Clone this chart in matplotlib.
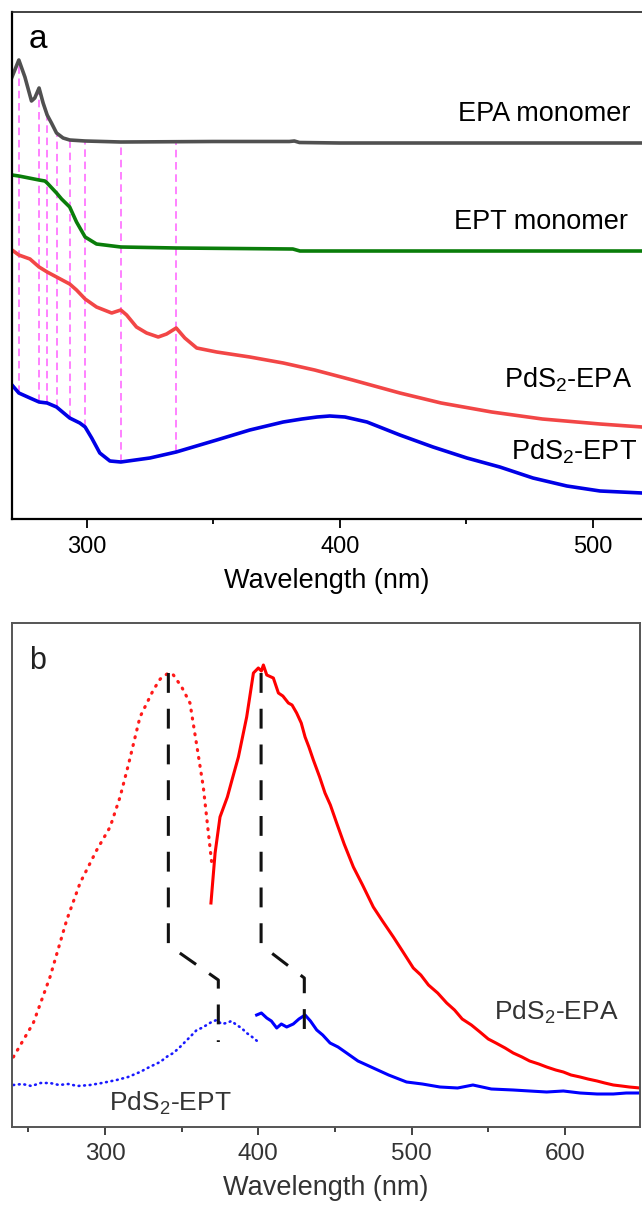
import numpy as np
import matplotlib
matplotlib.use("Agg")
import matplotlib.pyplot as plt

plt.rcParams["font.family"] = ["Liberation Sans", "DejaVu Sans"]
plt.rcParams["mathtext.fontset"] = "custom"
plt.rcParams["mathtext.rm"] = "Liberation Sans"
plt.rcParams["mathtext.default"] = "regular"

# ---- panel a: absorption spectra (offset, arbitrary units) -----------------
epa_wl = [270.4, 273.1, 275.5, 278.1, 279.4, 281.1, 282.7, 284.3, 286.0, 288.0,
          290.6, 293.2, 299.3, 313.4, 350, 380, 382, 384, 400, 519.4]
epa_y = [4.42, 4.59, 4.42, 4.18, 4.21, 4.31, 4.16, 4.04, 3.96, 3.86,
         3.81, 3.79, 3.78, 3.77, 3.775, 3.775, 3.78, 3.765, 3.76, 3.76]

ept_wl = [270.4, 273.1, 281.1, 283.4, 284.3, 288.0, 290.0, 293.2, 295.9, 299.3,
          303.8, 313.4, 335.3, 381.4, 384.2, 519.4]
ept_y = [3.44, 3.43, 3.39, 3.38, 3.36, 3.26, 3.20, 3.12, 2.97, 2.82,
         2.75, 2.72, 2.71, 2.70, 2.68, 2.68]

pepa_wl = [270.4, 273.1, 277.5, 281.1, 284.3, 288.0, 293.2, 295.9, 299.3, 303.8,
           309.8, 313.4, 315.7, 319.6, 323.6, 328.2, 331.5, 335.3, 338.7, 343.4,
           351.3, 364.4, 377.6, 390.0, 405.0, 423.7, 440.0, 460.0, 480.0, 502.8,
           519.4]
pepa_y = [2.69, 2.64, 2.60, 2.52, 2.47, 2.42, 2.35, 2.29, 2.20, 2.12,
          2.06, 2.09, 2.04, 1.92, 1.86, 1.82, 1.85, 1.91, 1.81, 1.71,
          1.67, 1.62, 1.56, 1.49, 1.39, 1.26, 1.16, 1.07, 1.00, 0.95,
          0.92]

pept_wl = [270.4, 273.1, 277.5, 281.1, 284.3, 288.0, 293.2, 297.2, 299.3, 301.9,
           305.1, 309.1, 313.4, 324.9, 335.3, 351.3, 364.4, 377.6, 385.0, 391.0,
           396.0, 402.0, 410.7, 423.7, 436.8, 450.2, 463.2, 476.3, 489.7, 502.8,
           519.4]
pept_y = [1.34, 1.26, 1.21, 1.17, 1.16, 1.12, 1.01, 0.96, 0.92, 0.81,
          0.66, 0.58, 0.57, 0.61, 0.67, 0.79, 0.89, 0.97, 1.00, 1.02,
          1.03, 1.02, 0.97, 0.84, 0.72, 0.61, 0.52, 0.41, 0.33, 0.28,
          0.26]

guide_wl = [273.1, 281.1, 284.3, 288.0, 293.2, 299.3, 313.4, 335.3]

# ---- panel b: excitation (dotted) / emission (solid) -----------------------
exa_wl = [240.2, 253.2, 264.1, 275.0, 283.7, 294.6, 303.3, 309.8, 315.2, 322.8,
          331.5, 336.0, 341.3, 344.6, 350.0, 355.4, 360.0, 364.1, 369.6]
exa_y = [0.70, 1.04, 1.50, 2.07, 2.44, 2.77, 3.00, 3.30, 3.62, 4.10,
         4.37, 4.48, 4.54, 4.52, 4.40, 4.24, 3.80, 3.40, 2.64]

ema_wl = [369.1, 371.8, 375.0, 379.8, 383.0, 387.0, 392.4, 396.8, 400.0, 402.0,
          403.3, 405.5, 409.8, 413.1, 416.0, 419.6, 422.0, 425.0, 428.0, 430.5,
          433.0, 435.9, 440.0, 443.5, 447.0, 451.1, 456.0, 462.0, 468.0, 475.0,
          481.0, 488.1, 494.0, 501.1, 506.0, 511.0, 517.0, 522.9, 528.0, 533.0,
          539.0, 544.6, 550.0, 555.0, 561.0, 566.3, 572.0, 577.0, 583.0, 588.1,
          594.0, 599.0, 604.0, 609.9, 615.0, 621.0, 626.0, 631.6, 637.0, 642.0,
          649.0]
ema_y = [2.24, 2.74, 3.10, 3.30, 3.48, 3.70, 4.10, 4.54, 4.59, 4.56,
         4.62, 4.52, 4.49, 4.34, 4.31, 4.24, 4.22, 4.14, 4.04, 3.90,
         3.80, 3.67, 3.50, 3.34, 3.22, 3.04, 2.83, 2.60, 2.42, 2.20,
         2.06, 1.90, 1.76, 1.59, 1.52, 1.42, 1.34, 1.24, 1.17, 1.08,
         1.02, 0.95, 0.88, 0.84, 0.79, 0.74, 0.70, 0.66, 0.63, 0.60,
         0.57, 0.55, 0.52, 0.50, 0.48, 0.46, 0.44, 0.42, 0.41, 0.40,
         0.39]

ext_wl = [240.2, 246.0, 252.0, 258.0, 264.1, 270.0, 276.0, 282.0, 290.2, 298.0,
          307.6, 315.0, 322.8, 329.0, 335.9, 341.0, 344.6, 348.9, 355.4, 359.8,
          363.0, 366.3, 369.5, 372.8, 376.0, 379.3, 382.5, 385.8, 389.0, 392.4,
          396.0, 400.0]
ext_y = [0.42, 0.43, 0.41, 0.44, 0.44, 0.42, 0.43, 0.41, 0.42, 0.44,
         0.47, 0.50, 0.55, 0.60, 0.65, 0.71, 0.74, 0.80, 0.90, 0.97,
         0.99, 1.02, 1.05, 1.07, 1.03, 1.04, 1.06, 1.02, 0.99, 0.94,
         0.90, 0.85]

emt_wl = [398.9, 402.0, 405.5, 408.5, 412.0, 415.0, 418.5, 422.8, 426.5, 430.5,
          434.0, 438.1, 442.0, 446.8, 452.0, 457.6, 465.0, 475.0, 485.0, 496.7,
          507.0, 518.5, 530.0, 540.0, 552.0, 566.3, 577.0, 588.1, 599.0, 609.9,
          621.0, 631.6, 640.0, 649.0]
emt_y = [1.12, 1.14, 1.09, 1.06, 0.99, 1.03, 1.00, 1.03, 1.08, 1.12,
         1.06, 0.97, 0.92, 0.84, 0.80, 0.74, 0.66, 0.59, 0.52, 0.45,
         0.43, 0.40, 0.39, 0.42, 0.38, 0.37, 0.36, 0.35, 0.36, 0.34,
         0.33, 0.33, 0.34, 0.34]

# shift guides: excitation peak -> PdS2-EPT peak, emission peak -> PdS2-EPT peak
shift1_x = [341.3, 341.3, 373.9, 373.9]
shift1_y = [4.54, 1.82, 1.47, 0.85]
shift2_x = [401.8, 401.8, 430.0, 430.0]
shift2_y = [4.54, 1.82, 1.49, 0.85]

fig = plt.figure(figsize=(6.42, 12.08), dpi=100)
W, H = 642, 1208
ax0 = fig.add_axes([12 / W, 1 - 519 / H, 630 / W, 507 / H])
ax1 = fig.add_axes([12 / W, 1 - 1127 / H, 628 / W, 504 / H])

# ---- panel a ---------------------------------------------------------------
g = np.array(guide_wl)
ax0.vlines(g, np.interp(g, pept_wl, pept_y), np.interp(g, epa_wl, epa_y),
           color="#ff77ff", lw=1.3, linestyles=(0, (4.2, 2.6)), zorder=1)
ax0.plot(epa_wl, epa_y, color="#505050", lw=2.6, zorder=2)
ax0.plot(ept_wl, ept_y, color="#0a7d0a", lw=2.6, zorder=2)
ax0.plot(pepa_wl, pepa_y, color="#f24646", lw=2.6, zorder=2)
ax0.plot(pept_wl, pept_y, color="#0000e6", lw=2.6, zorder=2)

ax0.set_xlim(270.4, 519.4)
ax0.set_ylim(0, 5.07)
ax0.set_yticks([])
ax0.set_xticks([300, 400, 500])
ax0.set_xticks([350, 450], minor=True)
ax0.tick_params(axis="x", which="major", length=6.5, width=1.3, pad=6,
                labelsize=17)
ax0.tick_params(axis="x", which="minor", length=3.5, width=1.3)
ax0.spines["right"].set_visible(False)
ax0.spines["top"].set_linewidth(1.2)
ax0.spines["top"].set_color("#222222")
for s in ("left", "bottom"):
    ax0.spines[s].set_linewidth(1.6)
ax0.set_xlabel("Wavelength (nm)", fontsize=19.5, labelpad=7)

ax0.text(0.027, 0.945, "a", transform=ax0.transAxes, fontsize=24,
         ha="left", va="center")
kw = dict(fontsize=19.5, ha="right", va="center")
ax0.text(630 / W, 1 - 114 / H, "EPA monomer", transform=fig.transFigure, **kw)
ax0.text(628 / W, 1 - 222 / H, "EPT monomer", transform=fig.transFigure, **kw)
ax0.text(632 / W, 1 - 380 / H, "PdS$_2$-EPA", transform=fig.transFigure, **kw)
ax0.text(637 / W, 1 - 452 / H, "PdS$_2$-EPT", transform=fig.transFigure, **kw)

# ---- panel b ---------------------------------------------------------------
ax1.plot(exa_wl, exa_y, color="#ff1a1a", lw=2.3, dashes=(0.3, 2.2),
         dash_capstyle="round", zorder=2)
ax1.plot(ema_wl, ema_y, color="#ff0000", lw=2.2, zorder=2)
ax1.plot(ext_wl, ext_y, color="#1a1aff", lw=1.9, dashes=(0.3, 1.8),
         dash_capstyle="round", zorder=2)
ax1.plot(emt_wl, emt_y, color="#0000ff", lw=2.2, zorder=2)
for xs, ys in ((shift1_x, shift1_y), (shift2_x, shift2_y)):
    ax1.plot(xs, ys, color="#111111", lw=2.2, dashes=(6.5, 5.2), zorder=3)

ax1.set_xlim(239.3, 649.0)
ax1.set_ylim(0, 5.04)
ax1.set_yticks([])
ax1.set_xticks([300, 400, 500, 600])
ax1.set_xticks([250, 350, 450, 550], minor=True)
ax1.tick_params(axis="x", which="major", length=5.5, width=1.3, pad=6,
                labelsize=17.5, color="#333333", labelcolor="#333333")
ax1.tick_params(axis="x", which="minor", length=3.5, width=1.3,
                color="#333333")
for s in ax1.spines.values():
    s.set_color("#555555")
    s.set_linewidth(1.4)
ax1.set_xlabel("Wavelength (nm)", fontsize=19.5, color="#333333", labelpad=7)

ax1.text(0.027, 0.925, "b", transform=ax1.transAxes, fontsize=22,
         ha="left", va="center", color="#222222")
ax1.text(556 / W, 1 - 1012 / H, "PdS$_2$-EPA", transform=fig.transFigure,
         fontsize=19, ha="center", va="center", color="#333333")
ax1.text(170 / W, 1 - 1103 / H, "PdS$_2$-EPT", transform=fig.transFigure,
         fontsize=19, ha="center", va="center", color="#333333")

fig.savefig("out.png", dpi=100)
